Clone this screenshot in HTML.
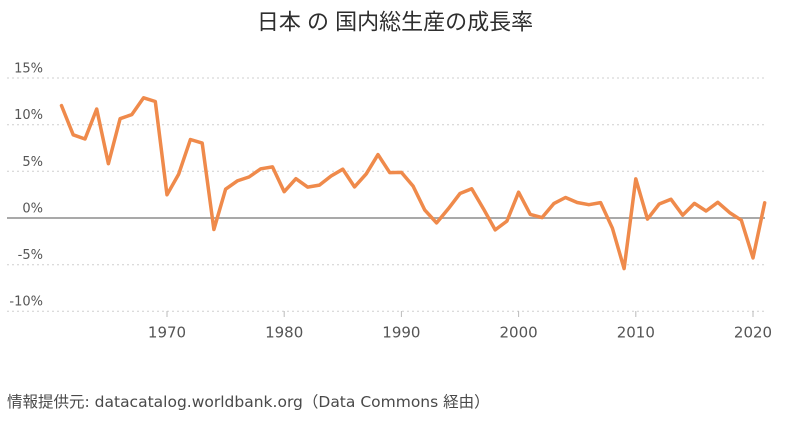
<!DOCTYPE html>
<html>
<head>
<meta charset="utf-8">
<style>
  html, body { margin: 0; padding: 0; background: #ffffff; }
  body { width: 800px; height: 436px; overflow: hidden; }
  svg { display: block; }
</style>
</head>
<body>
<svg width="800" height="436" viewBox="0 0 800 436" xmlns="http://www.w3.org/2000/svg">
  <rect x="0" y="0" width="800" height="436" fill="#ffffff"/>

  <!-- Title -->
  <text x="395" y="29.5" text-anchor="middle" font-family="'Liberation Sans', 'Noto Sans CJK JP', sans-serif" font-size="22" font-weight="normal" fill="#2e2e2e">日本 の 国内総生産の成長率</text>

  <!-- Gridlines -->
  <g stroke="#cfcfcf" stroke-width="1" stroke-dasharray="2,3" fill="none">
    <line x1="7" y1="78" x2="765" y2="78"/>
    <line x1="7" y1="124.7" x2="765" y2="124.7"/>
    <line x1="7" y1="171.3" x2="765" y2="171.3"/>
    <line x1="7" y1="264.7" x2="765" y2="264.7"/>
    <line x1="7" y1="311.3" x2="765" y2="311.3"/>
  </g>
  <!-- Zero line -->
  <line x1="7" y1="218" x2="765" y2="218" stroke="#a9a9a9" stroke-width="2"/>

  <!-- Y labels -->
  <g font-family="'DejaVu Sans', sans-serif" font-size="13" fill="#555555" text-anchor="end">
    <text x="43" y="72.5">15%</text>
    <text x="43" y="119">10%</text>
    <text x="43" y="165.8">5%</text>
    <text x="43" y="212.3">0%</text>
    <text x="43" y="259">-5%</text>
    <text x="43" y="305.7">-10%</text>
  </g>

  <!-- X ticks -->
  <g stroke="#bbbbbb" stroke-width="1">
    <line x1="167" y1="311" x2="167" y2="317"/>
    <line x1="284.2" y1="311" x2="284.2" y2="317"/>
    <line x1="401.4" y1="311" x2="401.4" y2="317"/>
    <line x1="518.6" y1="311" x2="518.6" y2="317"/>
    <line x1="635.8" y1="311" x2="635.8" y2="317"/>
    <line x1="753" y1="311" x2="753" y2="317"/>
  </g>

  <!-- X labels -->
  <g font-family="'DejaVu Sans', sans-serif" font-size="15" fill="#555555" text-anchor="middle">
    <text x="167" y="337.5">1970</text>
    <text x="284.2" y="337.5">1980</text>
    <text x="401.4" y="337.5">1990</text>
    <text x="518.6" y="337.5">2000</text>
    <text x="635.8" y="337.5">2010</text>
    <text x="753" y="337.5">2020</text>
  </g>

  <!-- Series -->
  <polyline fill="none" stroke="#ef8a4b" stroke-width="3.5" stroke-linejoin="round" stroke-linecap="round"
    points="61.5,105.6 73.2,134.8 85.0,139.0 96.7,109.0 108.4,163.7 120.1,118.7 131.8,114.6 143.6,97.8 155.3,101.5 167.0,194.8 178.7,174.1 190.4,139.5 202.2,143.1 213.9,229.5 225.6,189.2 237.3,180.9 249.0,177.0 260.8,168.8 272.5,166.9 284.2,191.7 295.9,178.7 307.6,187.1 319.4,185.1 331.1,176.0 342.8,169.2 354.5,186.9 366.2,173.9 378.0,154.6 389.7,172.6 401.4,172.4 413.1,186.1 424.8,210.1 436.6,222.9 448.3,208.8 460.0,193.5 471.7,188.8 483.4,208.7 495.2,229.9 506.9,221.1 518.6,192.2 530.3,214.4 542.0,217.6 553.8,203.6 565.5,197.5 577.2,202.5 588.9,204.7 600.6,202.6 612.4,228.2 624.1,268.6 635.8,178.9 647.5,219.1 659.2,204.0 671.0,199.3 682.7,215.2 694.4,203.4 706.1,211.0 717.8,202.3 729.6,212.6 741.3,220.2 753.0,257.9 764.7,202.8"/>

  <!-- Footer -->
  <text x="7" y="407" font-family="'DejaVu Sans', 'Noto Sans CJK JP', sans-serif" font-size="15.5" fill="#4a4a4a">情報提供元: datacatalog.worldbank.org（Data Commons 経由）</text>
</svg>
</body>
</html>
